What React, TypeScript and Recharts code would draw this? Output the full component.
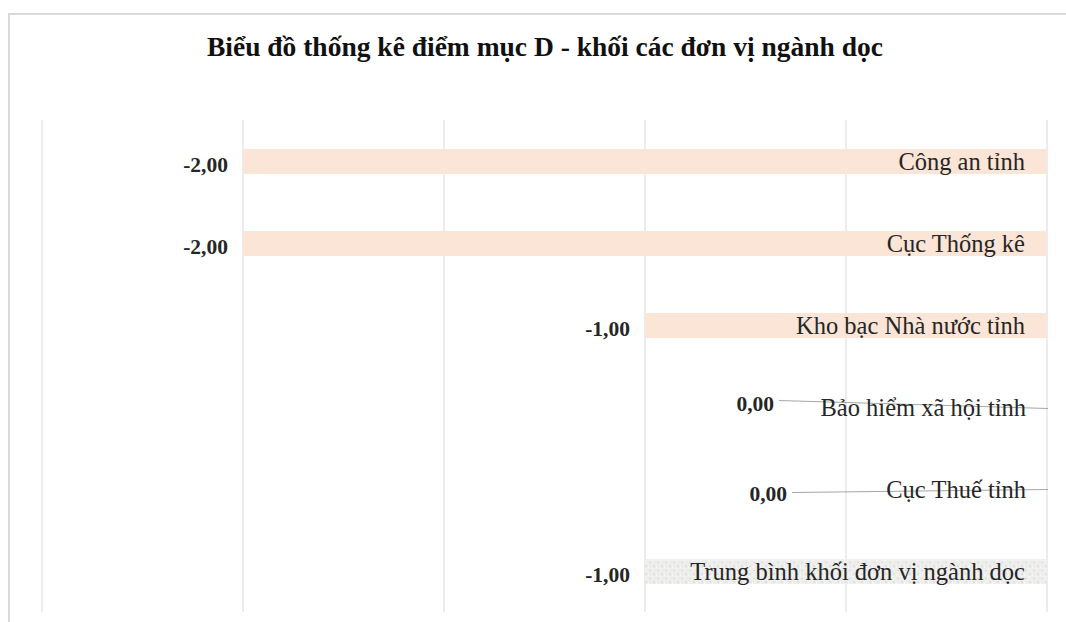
import { BarChart, Bar, XAxis, YAxis, CartesianGrid, Cell, LabelList } from "recharts";

const units = [
  "Công an tỉnh",
  "Cục Thống kê",
  "Kho bạc Nhà nước tỉnh",
  "Bảo hiểm xã hội tỉnh",
  "Cục Thuế tỉnh",
  "Trung bình khối đơn vị ngành dọc",
];
const scores = [-2, -2, -1, 0, 0, -1];
const xTicks = [-2.5, -2, -1.5, -1, -0.5, 0];

const data = units.map((name, i) => ({ name, score: scores[i] }));

const fmt = (v: number) => v.toFixed(2).replace(".", ",");

// hand-placed leader lines for the zero labels, like in the workbook
const leaderOffsets: Record<number, { dx: number; dy: number; y1: number; y2: number }> = {
  3: { dx: 274, dy: -1, y1: -7, y2: 1 },
  4: { dx: 261, dy: 7, y1: 3, y2: 0 },
};

const ValueLabel = (props: any) => {
  const { x, y, width, height, value, index } = props;
  const left = Math.min(x, x + width);
  const right = Math.max(x, x + width);
  const cy = y + height / 2;
  if (value === 0) {
    const o = leaderOffsets[index] || { dx: 268, dy: 0, y1: 0, y2: 0 };
    const end = right - o.dx;
    return (
      <g>
        <line x1={end + 5} y1={cy + o.y1} x2={right} y2={cy + o.y2} stroke="#a6a6a6" strokeWidth={1} />
        <text x={end} y={cy + o.dy} textAnchor="end" dominantBaseline="middle"
          fontFamily="'Liberation Serif', serif" fontWeight="bold" fontSize={21.5} fill="#262626">
          {fmt(value)}
        </text>
      </g>
    );
  }
  return (
    <text x={left - 15} y={cy + 6} textAnchor="end" dominantBaseline="middle"
      fontFamily="'Liberation Serif', serif" fontWeight="bold" fontSize={21.5} fill="#262626">
      {fmt(value)}
    </text>
  );
};

const NameLabel = (props: any) => {
  const { x, y, width, height, value } = props;
  const right = Math.max(x, x + width);
  return (
    <text x={right - 22} y={y + height / 2 + 3} textAnchor="end" dominantBaseline="middle"
      fontFamily="'Liberation Serif', serif" fontSize={24.5} fill="#262626">
      {value}
    </text>
  );
};

export default function App() {
  return (
    <div style={{ position: "absolute", left: 0, top: 0, width: 1066, height: 622, overflow: "hidden", background: "#fff" }}>
      <div style={{ position: "absolute", left: 8, top: 13, width: 1100, height: 700, border: "2px solid #d9d9d9", boxSizing: "border-box" }} />
      <div style={{ position: "absolute", left: 9, width: 1072, top: 30, textAlign: "center", fontFamily: "'Liberation Serif', serif", fontWeight: "bold", fontSize: 27.5, lineHeight: "34px", color: "#111" }}>
        Biểu đồ thống kê điểm mục D - khối các đơn vị ngành dọc
      </div>
      <div style={{ position: "absolute", left: 0, top: 0 }}>
        <BarChart width={1066} height={622} data={data} layout="vertical"
          margin={{ top: 120, right: 19, bottom: 10, left: 42 }}>
          <defs>
            <pattern id="texture" width="8" height="8" patternUnits="userSpaceOnUse">
              <rect width="8" height="8" fill="#eeeeec" />
              <rect x="1" y="2" width="2" height="1" fill="#d8d8d6" />
              <rect x="5" y="5" width="2" height="2" fill="#e0e0de" />
              <rect x="4" y="0" width="2" height="1" fill="#f8f8f6" />
              <rect x="0" y="6" width="1" height="2" fill="#f8f8f6" />
            </pattern>
          </defs>
          <CartesianGrid horizontal={false} stroke="#d9d9d9" />
          <XAxis type="number" domain={[-2.5, 0]} ticks={xTicks} hide />
          <YAxis type="category" dataKey="name" hide />
          <Bar dataKey="score" barSize={25} minPointSize={1} isAnimationActive={false}>
            {data.map((d, i) => (
              <Cell
                key={d.name}
                fill={d.score === 0 ? "transparent" : i === data.length - 1 ? "url(#texture)" : "#fbe5d6"}
              />
            ))}
            <LabelList dataKey="score" content={ValueLabel} />
            <LabelList dataKey="name" content={NameLabel} />
          </Bar>
        </BarChart>
      </div>
    </div>
  );
}
